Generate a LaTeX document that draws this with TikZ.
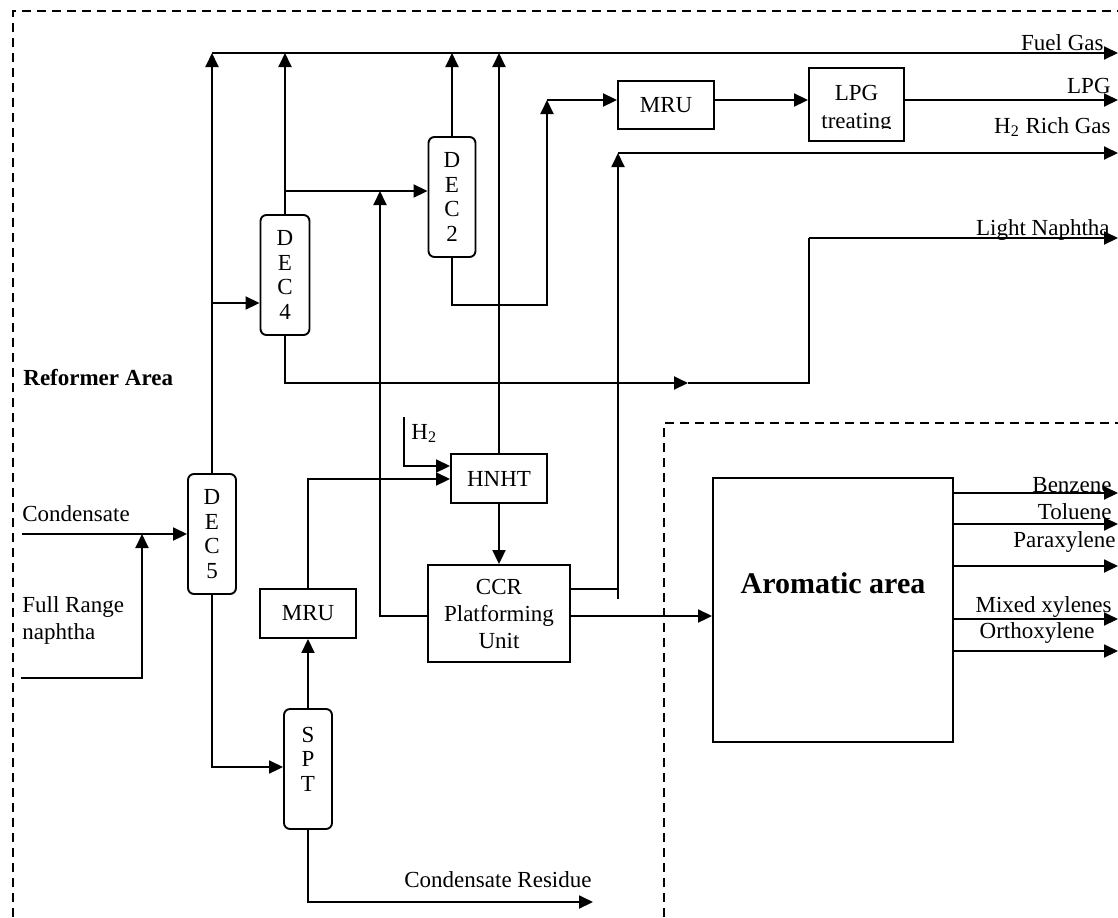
\documentclass[tikz,border=0pt]{standalone}
\usepackage{fontspec}
\setmainfont{Liberation Serif}
\usetikzlibrary{arrows.meta}
\newcommand\myfs{\fontsize{11.5}{13.5}\selectfont}
\newcommand\colfs{\fontsize{11.5}{12.25}\selectfont}
\tikzset{
  ln/.style={line width=0.95pt},
  arr/.style={line width=0.95pt, -{Triangle[length=7pt,width=6.5pt]}},
  colbox/.style={draw, line width=0.95pt, rounded corners=3pt, inner sep=0pt, align=center, font=\colfs},
  unitbox/.style={draw, line width=0.95pt, inner sep=0pt, align=center, font=\myfs},
  framed/.style={line width=0.8pt, dash pattern=on 4.5pt off 3pt},
  lbl/.style={inner sep=0pt, font=\myfs},
}
\begin{document}
\begin{tikzpicture}[x=0.5pt,y=-0.5pt]
\useasboundingbox (0,0) rectangle (1118,917);
% frames
\draw[framed] (13,917) -- (13,11) -- (1118,11);
\draw[framed] (664,917) -- (664,423) -- (1118,423);

% units
\node[colbox, minimum width=24pt, minimum height=60pt] (dec5) at (212,534) {D\\E\\C\\5};
\node[colbox, minimum width=24.5pt, minimum height=60pt] (dec4) at (285,275) {D\\E\\C\\4};
\node[colbox, minimum width=23.5pt, minimum height=60pt] (dec2) at (452,197) {D\\E\\C\\2};
\node[colbox, minimum width=24pt, minimum height=60pt] (spt) at (308,769) {};
\node[inner sep=0pt, align=center, font=\colfs] (spttext) at (308,759) {S\\P\\T};
\node[unitbox, minimum width=48pt, minimum height=24pt] (mru1) at (666,105) {MRU};
\node[unitbox, minimum width=47.5pt, minimum height=36.5pt] (lpg) at (856.5,104.5) {};
\begin{scope}
  \clip (809,68) rectangle (904,128);
  \node[lbl, anchor=base] (lpgt1) at (856.5,100) {LPG};
  \node[lbl, anchor=base] (lpgt2) at (856.5,128) {treating};
\end{scope}
\node[unitbox, minimum width=48pt, minimum height=24.5pt] (hnht) at (499,478.5) {HNHT};
\node[unitbox, minimum width=71pt, minimum height=48.5pt] (ccr) at (499,613.5) {CCR\\Platforming\\Unit};
\node[unitbox, minimum width=48pt, minimum height=24.5pt] (mru2) at (308,613.5) {MRU};
\node[unitbox, minimum width=120pt, minimum height=132pt] (arom) at (833,610) {};
\node[inner sep=0pt, anchor=base, font=\fontsize{15}{18}\selectfont\bfseries] (aromtext) at (833,593) {Aromatic area};

% coordinates
\coordinate (cin) at (22,534);
\coordinate (frs) at (21,678);
\coordinate (frj) at (142,534);
\coordinate (fg5) at (212,53);
\coordinate (fg4) at (285,53);
\coordinate (fg2) at (452,53);
\coordinate (fgh) at (499,53);
\coordinate (fgE) at (1118,53);
\coordinate (j42) at (285,191);
\coordinate (j54) at (212,303);
\coordinate (d2b) at (452,305);
\coordinate (mj) at (547,100);
\coordinate (lpgE) at (1118,100);
\coordinate (hb) at (618,599);
\coordinate (hj) at (618,153);
\coordinate (hE) at (1118,153);
\coordinate (hc) at (618,589);
\coordinate (ln1) at (285,383);
\coordinate (lnm) at (688,383);
\coordinate (ln2) at (809,238);
\coordinate (lnE) at (1118,238);
\coordinate (cl) at (380,616);
\coordinate (cj) at (380,191);
\coordinate (h2s) at (404,417);
\coordinate (h2b) at (404,466);
\coordinate (m2j) at (308,479);
\coordinate (ca) at (600,616);
\coordinate (s1) at (212,767);
\coordinate (r1) at (308,902);
\coordinate (rE) at (593,902);
\coordinate (ab) at (1118,493);
\coordinate (at) at (1118,524);
\coordinate (ap) at (1118,566);
\coordinate (am) at (1118,619);
\coordinate (ao) at (1118,651);

% connectors
\draw[arr] (cin) -- (dec5.west);
\draw[arr] (frs) -| (frj);
\draw[arr] (dec5) -- (fg5);
\draw[arr] (fg5) -- (fgE);
\draw[arr] (dec4) -- (fg4);
\draw[arr] (dec2) -- (fg2);
\draw[arr] (hnht) -- (fgh);
\draw[arr] (j42) -- (j42 -| dec2.west);
\draw[arr] (j54) -- (j54 -| dec4.west);
\draw[arr] (dec2.south) -- (d2b) -| (mj);
\draw[arr] (mj) -- (mj -| mru1.west);
\draw[arr] (mj -| mru1.east) -- (mj -| lpg.west);
\draw[arr] (lpgE -| lpg.east) -- (lpgE);
\draw[arr] (hb) -- (hj);
\draw[arr] (hj) -- (hE);
\draw[ln] (hc -| ccr.east) -- (hc);
\draw[arr] (dec4.south) -- (ln1) -- (lnm);
\draw[ln] (lnm) -| (ln2);
\draw[arr] (ln2) -- (lnE);
\draw[arr] (cl -| ccr.west) -- (cl) -- (cj);
\draw[arr] (h2s) -- (h2b) -- (h2b -| hnht.west);
\draw[arr] (mru2.north) -- (m2j) -- (m2j -| hnht.west);
\draw[arr] (hnht) -- (ccr);
\draw[arr] (ca -| ccr.east) -- (ca -| arom.west);
\draw[arr] (dec5.south) -- (s1) -- (s1 -| spt.west);
\draw[arr] (spt) -- (mru2);
\draw[arr] (spt.south) -- (r1) -- (rE);
\draw[arr] (ab -| arom.east) -- (ab);
\draw[arr] (at -| arom.east) -- (at);
\draw[arr] (ap -| arom.east) -- (ap);
\draw[arr] (am -| arom.east) -- (am);
\draw[arr] (ao -| arom.east) -- (ao);

% labels
\node[lbl, anchor=base east] (lfg) at (1104,50) {Fuel Gas};
\node[lbl, anchor=base east] (llpg) at (1111,93) {LPG};
\node[lbl, anchor=base east] (lh2r) at (1111,133) {H\textsubscript{2} Rich Gas};
\node[lbl, anchor=base east] (lln) at (1110,235) {Light Naphtha};
\node[lbl, anchor=base east] (lben) at (1112,492) {Benzene};
\node[lbl, anchor=base east] (ltol) at (1112,519) {Toluene};
\node[lbl, anchor=base east] (lpx) at (1116,547) {Paraxylene};
\node[lbl, anchor=base east] (lmx) at (1112,612) {Mixed xylenes};
\node[lbl, anchor=base east] (lox) at (1095,638) {Orthoxylene};
\node[lbl, anchor=base west] (lref) at (23,385) {\bfseries Reformer Area};
\node[lbl, anchor=base west] (lcond) at (22,521) {Condensate};
\node[lbl, anchor=base west] (lfr1) at (22,612) {Full Range};
\node[lbl, anchor=base west] (lfr2) at (22,639) {naphtha};
\node[lbl, anchor=base west] (lres) at (404,887) {Condensate Residue};
\node[lbl, anchor=base west] (lh2) at (411,439) {H\textsubscript{2}};
\end{tikzpicture}
\end{document}
